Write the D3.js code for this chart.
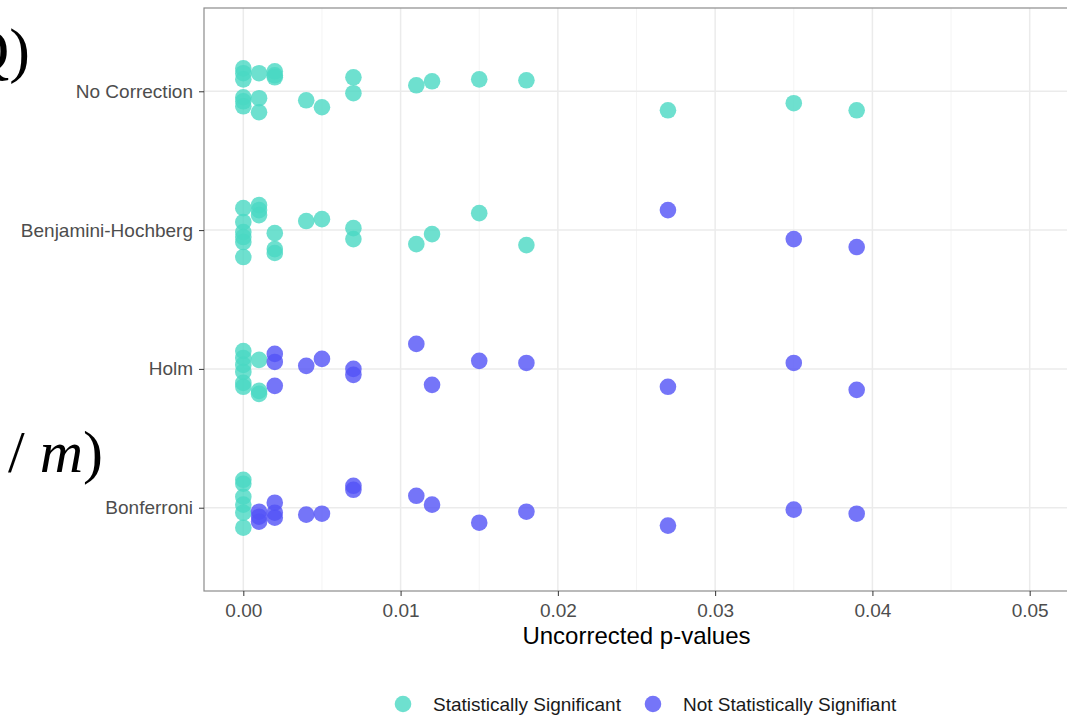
<!DOCTYPE html>
<html>
<head>
<meta charset="utf-8">
<script src="https://cdn.jsdelivr.net/npm/d3@7"></script>
<style>
  html, body { margin: 0; padding: 0; background: #ffffff; }
  svg { display: block; }
</style>
</head>
<body>
<svg id="chart" width="1067" height="715"></svg>
<script>
// ---------------- data ----------------
const methods = ["No Correction", "Benjamini-Hochberg", "Holm", "Bonferroni"];
const pValues = [0, 0, 0, 0, 0, 0, 0.001, 0.001, 0.001, 0.002, 0.002, 0.002,
                 0.004, 0.005, 0.007, 0.007, 0.011, 0.012, 0.015, 0.018, 0.027, 0.035, 0.039];
// vertical jitter, in category-step units (positive = downward)
const jitterNoCorrection = [-0.165, -0.13, -0.086, 0.043, 0.072, 0.108, -0.13, 0.05, 0.151, -0.144, -0.115, -0.101,
                            0.065, 0.115, -0.101, 0.014, -0.043, -0.072, -0.086, -0.079, 0.137, 0.086, 0.137];
const jitterBH = [-0.158, -0.058, 0.014, 0.05, 0.086, 0.194, -0.18, -0.144, -0.108, 0.022, 0.137, 0.165,
                  -0.065, -0.079, -0.014, 0.065, 0.101, 0.029, -0.122, 0.108, -0.144, 0.065, 0.122];
const jitterHolm = [-0.129, -0.079, -0.029, 0.022, 0.101, 0.129, -0.065, 0.158, 0.18, -0.108, -0.05, 0.122,
                    -0.022, -0.072, 0, 0.043, -0.18, 0.115, -0.058, -0.043, 0.129, -0.043, 0.151];
const jitterBonferroni = [-0.201, -0.173, -0.079, -0.022, 0.036, 0.144, 0.029, 0.065, 0.101, -0.036, 0.036, 0.072,
                          0.05, 0.043, -0.158, -0.129, -0.086, -0.022, 0.108, 0.029, 0.129, 0.014, 0.043];
// 1 = statistically significant, 0 = not
const sigNoCorrection = [1,1,1,1,1,1,1,1,1,1,1,1,1,1,1,1,1,1,1,1,1,1,1];
const sigBH           = [1,1,1,1,1,1,1,1,1,1,1,1,1,1,1,1,1,1,1,1,0,0,0];
const sigHolm         = [1,1,1,1,1,1,1,1,1,0,0,0,0,0,0,0,0,0,0,0,0,0,0];
const sigBonferroni   = [1,1,1,1,1,1,0,0,0,0,0,0,0,0,0,0,0,0,0,0,0,0,0];
const xTicks = [0, 0.01, 0.02, 0.03, 0.04, 0.05];
const legendLabels = ["Statistically Significant", "Not Statistically Signifiant"];
const xTitle = "Uncorrected p-values";

// ---------------- build rows ----------------
const jitters = [jitterNoCorrection, jitterBH, jitterHolm, jitterBonferroni];
const sigs = [sigNoCorrection, sigBH, sigHolm, sigBonferroni];
const points = [];
methods.forEach((m, i) => {
  pValues.forEach((p, j) => {
    points.push({ method: m, p: p, jitter: jitters[i][j], sig: sigs[i][j] });
  });
});

// ---------------- layout ----------------
const svg = d3.select("#chart");
const panel = { left: 204, top: 8, right: 1069, bottom: 591 };
const font = "'Liberation Sans', Arial, Helvetica, sans-serif";
const colors = { 1: "#4AD8C3", 0: "#5353F6" };

const x = d3.scaleLinear().domain([-0.0025, 0.0525]).range([panel.left, panel.right]);
const y = d3.scalePoint().domain(methods).range([panel.top, panel.bottom]).padding(0.6);
const step = y.step();

// grid
const grid = svg.append("g");
const minorTicks = d3.range(0.005, 0.05, 0.01);
grid.selectAll("line.minor").data(minorTicks).join("line")
  .attr("x1", d => x(d)).attr("x2", d => x(d))
  .attr("y1", panel.top).attr("y2", panel.bottom)
  .attr("stroke", "#f4f4f4").attr("stroke-width", 1);
grid.selectAll("line.major").data(xTicks).join("line")
  .attr("x1", d => x(d)).attr("x2", d => x(d))
  .attr("y1", panel.top).attr("y2", panel.bottom)
  .attr("stroke", "#ebebeb").attr("stroke-width", 1.5);
grid.selectAll("line.h").data(methods).join("line")
  .attr("x1", panel.left).attr("x2", panel.right)
  .attr("y1", d => y(d)).attr("y2", d => y(d))
  .attr("stroke", "#ebebeb").attr("stroke-width", 1.5);

// panel border
svg.append("rect")
  .attr("x", panel.left).attr("y", panel.top)
  .attr("width", panel.right - panel.left).attr("height", panel.bottom - panel.top)
  .attr("fill", "none").attr("stroke", "#8c8c8c").attr("stroke-width", 1.2);

// points
svg.append("g").selectAll("circle").data(points).join("circle")
  .attr("cx", d => x(d.p))
  .attr("cy", d => y(d.method) + d.jitter * step)
  .attr("r", 8.3)
  .attr("fill", d => colors[d.sig])
  .attr("fill-opacity", 0.8);

// axes
const xAxis = svg.append("g").attr("transform", `translate(0,${panel.bottom})`)
  .call(d3.axisBottom(x).tickValues(xTicks).tickFormat(d3.format(".2f")).tickSize(5).tickPadding(8));
xAxis.select(".domain").remove();
xAxis.selectAll(".tick line").attr("stroke", "#333333");
xAxis.selectAll(".tick text").attr("font-family", font).attr("font-size", 19).attr("fill", "#4d4d4d");

const yAxis = svg.append("g").attr("transform", `translate(${panel.left},0)`)
  .call(d3.axisLeft(y).tickSize(5).tickPadding(6));
yAxis.select(".domain").remove();
yAxis.selectAll(".tick line").attr("stroke", "#333333");
yAxis.selectAll(".tick text").attr("font-family", font).attr("font-size", 19).attr("fill", "#4d4d4d");

// axis title
svg.append("text")
  .attr("x", (panel.left + panel.right) / 2).attr("y", 644)
  .attr("text-anchor", "middle")
  .attr("font-family", font).attr("font-size", 24).attr("fill", "#000")
  .text(xTitle);

// legend
const legend = svg.append("g");
let lx = 403;
const ly = 704;
[1, 0].forEach((s, i) => {
  legend.append("circle").attr("cx", lx).attr("cy", ly).attr("r", 8.3)
    .attr("fill", colors[s]).attr("fill-opacity", 0.8);
  const t = legend.append("text").attr("x", lx + 30).attr("y", ly + 7)
    .attr("font-family", font).attr("font-size", 19).attr("fill", "#1a1a1a")
    .text(legendLabels[i]);
  lx = lx + 30 + t.node().getComputedTextLength() + 32;
});

// stray overlapping text fragments at the left edge
const serif = "'Liberation Serif', 'Times New Roman', Times, serif";
svg.append("text").attr("x", 30).attr("y", 71).attr("text-anchor", "end")
  .attr("font-family", serif).attr("font-size", 62).attr("fill", "#000").text("Q)");
const frag = svg.append("text").attr("x", 103).attr("y", 472).attr("text-anchor", "end")
  .attr("font-family", serif).attr("font-size", 60).attr("fill", "#000");
frag.append("tspan").text("/ ");
frag.append("tspan").attr("font-style", "italic").text("m");
frag.append("tspan").text(")");
</script>
</body>
</html>
